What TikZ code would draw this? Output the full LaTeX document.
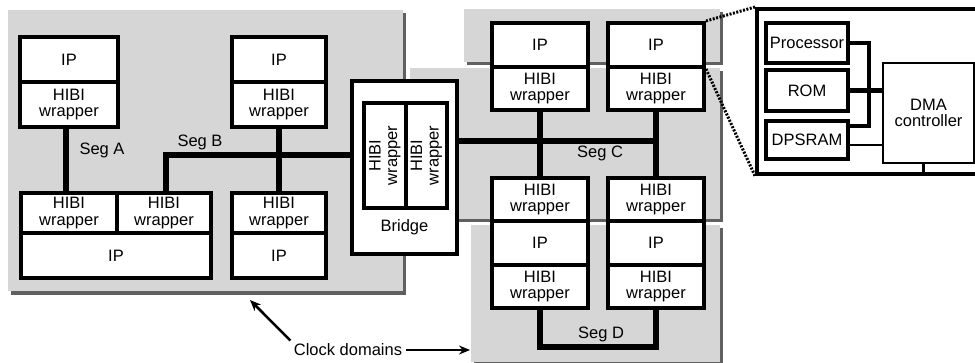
\documentclass[tikz,border=0pt]{standalone}
\usepackage{fontspec}
\setmainfont{Liberation Sans}
\usetikzlibrary{arrows.meta}
\definecolor{domgray}{RGB}{214,214,214}
\definecolor{shadegray}{RGB}{96,96,96}
\begin{document}
\begin{tikzpicture}[x=1pt, y=-1pt, >={Stealth[length=11pt,width=9pt]},
		every node/.style={font=\fontsize{16.5}{16.5}\selectfont, align=center},
		blk/.style={draw, line width=4pt, fill=white, inner sep=0pt},
		bus/.style={line width=5.5pt},
		clkdom/.style={fill=domgray},
		shade/.style={fill=shadegray}]
	\useasboundingbox (0,0) rectangle (975,362);
	
	% 1. clock domains with shadow
	\fill[shade] (11,13) rectangle (406,295);
	\fill[clkdom] (8,10) rectangle (403,291);
	\fill[shade] (467,12) rectangle (723,65);
	\fill[clkdom] (464,9) rectangle (720,62);
	\fill[shade] (413,71) rectangle (723,222);
	\fill[clkdom] (410,68) rectangle (720,219);
	\fill[shade] (474,228) rectangle (723,365);
	\fill[clkdom] (471,225) rectangle (720,362);
	
	% 2. left domain
	\node[blk, minimum width=98, minimum height=45] (ipA) at (69,59.5) {IP};
	\node[blk, minimum width=98, minimum height=45] (wrA) at (69,104.5) {HIBI\\wrapper};
	\node[blk, minimum width=94, minimum height=45] (ipB) at (279,59.5) {IP};
	\node[blk, minimum width=94, minimum height=45] (wrB) at (279,104.5) {HIBI\\wrapper};
	\node[blk, minimum width=96, minimum height=40] (wrC1) at (69,213) {HIBI\\wrapper};
	\node[blk, minimum width=94, minimum height=40] (wrC2) at (164,213) {HIBI\\wrapper};
	\node[blk, minimum width=190, minimum height=45] (ipC) at (116,255.5) {IP};
	\node[blk, minimum width=94, minimum height=40] (wrD) at (279,213) {HIBI\\wrapper};
	\node[blk, minimum width=94, minimum height=45] (ipD) at (279,255.5) {IP};
	
	% 3. bridge
	\node[blk, minimum width=105, minimum height=173] (bridge) at (404.5,167.5) {};
	\node[blk, rotate=90, minimum width=105, minimum height=42] (brL) at (385,155.5) {HIBI\\wrapper};
	\node[blk, rotate=90, minimum width=105, minimum height=41] (brR) at (426.5,155.5) {HIBI\\wrapper};
	\node (brlabel) at (404.5,227) {Bridge};
	
	% 4. right domains
	\node[blk, minimum width=96, minimum height=44] (ipE) at (540,45) {IP};
	\node[blk, minimum width=96, minimum height=43] (wrE) at (540,88.5) {HIBI\\wrapper};
	\node[blk, minimum width=96, minimum height=44] (ipF) at (656,45) {IP};
	\node[blk, minimum width=96, minimum height=43] (wrF) at (656,88.5) {HIBI\\wrapper};
	\node[blk, minimum width=96, minimum height=43] (wrG) at (540,199.5) {HIBI\\wrapper};
	\node[blk, minimum width=96, minimum height=44] (ipG) at (540,243) {IP};
	\node[blk, minimum width=96, minimum height=43] (wrI) at (540,286.5) {HIBI\\wrapper};
	\node[blk, minimum width=96, minimum height=43] (wrH) at (656,199.5) {HIBI\\wrapper};
	\node[blk, minimum width=96, minimum height=44] (ipH) at (656,243) {IP};
	\node[blk, minimum width=96, minimum height=43] (wrJ) at (656,286.5) {HIBI\\wrapper};
	
	% 5. segments
	\coordinate (bB) at (352,155);
	\coordinate (bC) at (457,141);
	\draw[bus] ([xshift=-3pt]wrA.south) -- ([xshift=-3pt]wrC1.north);
	\draw[bus] ([xshift=2pt]wrC2.north) |- (bB);
	\draw[bus] (wrB.south) -- (wrD.north);
	\draw[bus] (bC) -- (wrF.south |- bC);
	\draw[bus] (wrE.south) -- (wrG.north);
	\draw[bus] (wrF.south) -- (wrH.north);
	\draw[bus] (wrI.south) -- ++(0,37) -| (wrJ.south);
	\node (segA) at (102,150) {Seg A};
	\node (segB) at (200,142) {Seg B};
	\node (segC) at (600,153) {Seg C};
	\node (segD) at (601,334) {Seg D};
	
	% 6. zoomed tile
	\node[blk, minimum width=223, minimum height=165] (tile) at (868.5,91.5) {};
	\node[blk, minimum width=82, minimum height=40] (proc) at (807,43) {Processor};
	\node[blk, minimum width=82, minimum height=41] (rom) at (807,90.5) {ROM};
	\node[blk, minimum width=82, minimum height=38] (dpsram) at (807,140) {DPSRAM};
	\node[blk, line width=2pt, minimum width=91, minimum height=100] (dma) at (928.5,113) {DMA\\controller};
	\draw[line width=3.5pt] (proc.east) -- ++(19,0) |- ([yshift=14pt]dpsram.east);
	\draw[bus] (rom.east) -- (dma.west |- rom.east);
	\draw[line width=2pt] ([yshift=-5pt]dpsram.east) -- (dma.west |- 0,145);
	\draw[line width=2.5pt] ([xshift=-5pt]dma.south) -- ([xshift=-5pt]dma.south |- tile.south);
	\draw[line width=3pt, dash pattern=on 2pt off 1.5pt] (ipF.north east) -- (tile.north west);
	\draw[line width=3pt, dash pattern=on 2pt off 1.5pt] (ipF.south east) -- (tile.south west);
	
	% 7. clock domain label
	\node (clk) at (348,350) {Clock domains};
	\coordinate (clkR) at (470,350);
	\coordinate (clkL) at (250,300);
	\draw[->, line width=2.5pt] (clk.east) -- (clkR);
	\draw[->, line width=2.5pt] (clk.north west) -- (clkL);
\end{tikzpicture}
\end{document}
